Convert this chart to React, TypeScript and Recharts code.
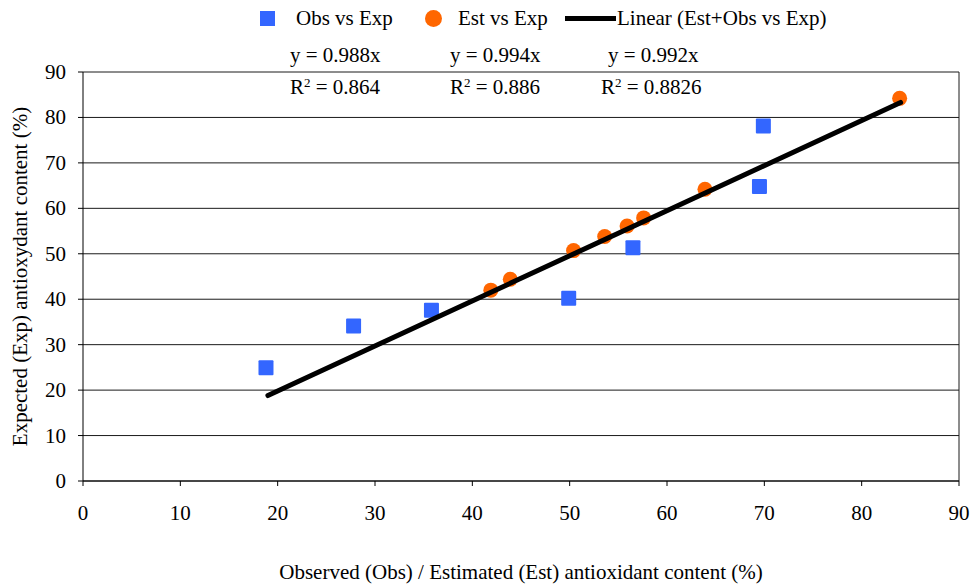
import { ScatterChart, Scatter, XAxis, YAxis, CartesianGrid, ReferenceLine } from 'recharts';

const AXIS_TICKS = [0, 10, 20, 30, 40, 50, 60, 70, 80, 90];

// Obs vs Exp (blue squares)
const OBS_X = [18.8, 27.8, 35.8, 49.9, 56.5, 69.5, 69.9];
const OBS_Y = [24.9, 34.1, 37.6, 40.2, 51.3, 64.8, 78.1];

// Est vs Exp (orange circles)
const EST_X = [41.9, 43.9, 50.4, 53.6, 55.9, 57.6, 63.9, 83.9];
const EST_Y = [42.0, 44.4, 50.7, 53.8, 56.1, 57.9, 64.2, 84.2];

// linear trend (Est+Obs vs Exp), end points
const TREND_X = [19, 84];
const TREND_Y = [18.8, 83.3];

const EQ_TEXT = ['y = 0.988x', 'y = 0.994x', 'y = 0.992x'];
const R2_TEXT = ['0.864', '0.886', '0.8826'];

const obsData = OBS_X.map((x, i) => ({ x, y: OBS_Y[i] }));
const estData = EST_X.map((x, i) => ({ x, y: EST_Y[i] }));
const trendData = TREND_X.map((x, i) => ({ x, y: TREND_Y[i] }));

const FONT = 'Liberation Serif, serif';
const BLUE = '#3366FF';
const ORANGE = '#FF6600';

const eqLeft = [290, 450, 608];
const r2Left = [290, 450, 601];

const Square = (props: any) => (
  <rect x={props.cx - 7.5} y={props.cy - 7.5} width={15} height={15} rx={1} fill={BLUE} />
);
const Dot = (props: any) => <circle cx={props.cx} cy={props.cy} r={7.5} fill={ORANGE} />;
const NoShape = () => <g />;

const tickStyle = { fontFamily: FONT, fontSize: 21, fill: '#000' };

const XTick = (props: any) => (
  <text x={props.x} y={props.y} dy={30} textAnchor="middle" style={tickStyle}>
    {props.payload.value}
  </text>
);
const YTick = (props: any) => (
  <text x={props.x} y={props.y} dy={7} textAnchor="end" style={tickStyle}>
    {props.payload.value}
  </text>
);

export default function App() {
  return (
    <div style={{ position: 'absolute', left: 0, top: 0, width: 972, height: 586, fontFamily: FONT, background: '#fff' }}>
      <ScatterChart
        width={972}
        height={586}
        margin={{ top: 72, right: 13, bottom: 0, left: 0 }}
        style={{ fontFamily: FONT }}
      >
        <CartesianGrid vertical={false} stroke="#1a1a1a" strokeWidth={1} />
        <XAxis
          type="number"
          dataKey="x"
          domain={[0, 90]}
          ticks={AXIS_TICKS}
          height={105}
          tickSize={5}
          tickMargin={4}
          stroke="#000"
          tick={XTick}
          label={{
            value: 'Observed (Obs) / Estimated (Est) antioxidant content (%)',
            position: 'insideBottom',
            offset: 7,
            style: { fill: '#000', fontSize: 21, fontFamily: FONT },
          }}
        />
        <YAxis
          type="number"
          dataKey="y"
          domain={[0, 90]}
          ticks={AXIS_TICKS}
          width={83}
          tickSize={5}
          tickMargin={12}
          stroke="#000"
          tick={YTick}
          label={{
            value: 'Expected (Exp) antioxydant content (%)',
            angle: -90,
            position: 'insideLeft',
            offset: 20,
            style: { fill: '#000', fontSize: 21, fontFamily: FONT, textAnchor: 'middle' },
          }}
        />
        <ReferenceLine x={90} stroke="#1a1a1a" />
        <Scatter data={obsData} shape={Square} isAnimationActive={false} />
        <Scatter data={estData} shape={Dot} isAnimationActive={false} />
        <Scatter
          data={trendData}
          shape={NoShape}
          line={{ stroke: '#000', strokeWidth: 5, strokeLinecap: 'round' }}
          isAnimationActive={false}
        />
      </ScatterChart>

      {/* legend */}
      <div style={{ position: 'absolute', top: 5, left: 0, width: 972, height: 26, fontSize: 21, color: '#000' }}>
        <div style={{ position: 'absolute', left: 260, top: 6, width: 15, height: 15, background: BLUE }} />
        <span style={{ position: 'absolute', left: 296, top: 0, lineHeight: '26px' }}>Obs vs Exp</span>
        <div style={{ position: 'absolute', left: 425, top: 5, width: 17, height: 17, borderRadius: '50%', background: ORANGE }} />
        <span style={{ position: 'absolute', left: 458, top: 0, lineHeight: '26px' }}>Est vs Exp</span>
        <div style={{ position: 'absolute', left: 565, top: 11, width: 51, height: 5, background: '#000' }} />
        <span style={{ position: 'absolute', left: 617, top: 0, lineHeight: '26px' }}>Linear (Est+Obs vs Exp)</span>
      </div>

      {/* trendline equations */}
      {EQ_TEXT.map((t, i) => (
        <div key={t} style={{ position: 'absolute', left: eqLeft[i], top: 42, fontSize: 21, lineHeight: '26px' }}>
          {t}
        </div>
      ))}
      {R2_TEXT.map((t, i) => (
        <div key={t} style={{ position: 'absolute', left: r2Left[i], top: 74, fontSize: 21, lineHeight: '26px' }}>
          R<sup style={{ fontSize: 13, verticalAlign: 'top', position: 'relative', top: -4 }}>2</sup> = {t}
        </div>
      ))}
    </div>
  );
}
